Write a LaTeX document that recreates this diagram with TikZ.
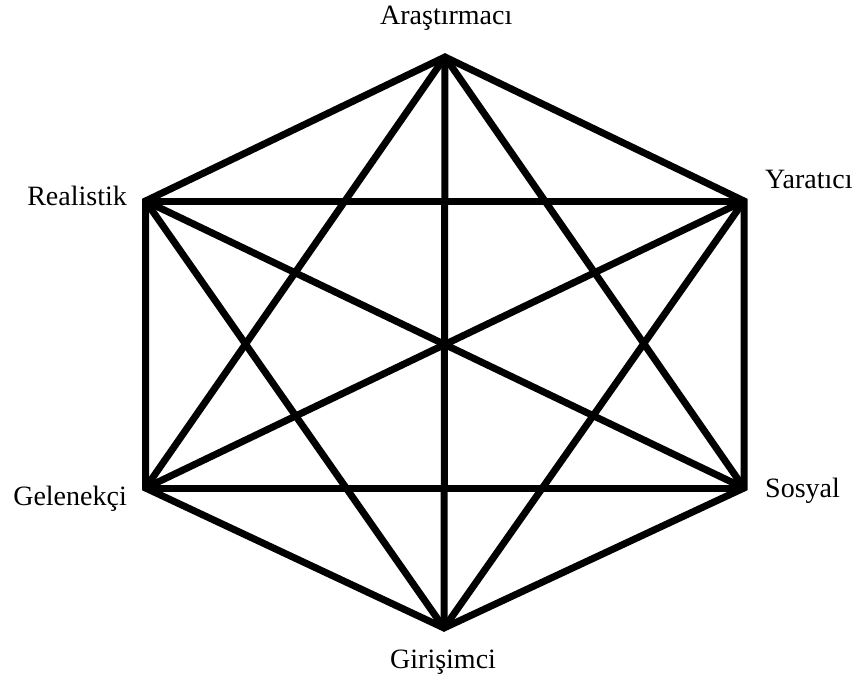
\documentclass[tikz,border=0pt]{standalone}
\usepackage{fontspec}
\setmainfont{Liberation Serif}
\begin{document}
\begin{tikzpicture}[x=1pt,y=-1pt,
  edge/.style={line width=7pt,black,line join=miter,line cap=butt},
  lbl/.style={inner sep=0pt,anchor=base west,font=\fontsize{28}{30}\selectfont}]
\useasboundingbox (0,0) rectangle (865,682);
\coordinate (T) at (445,57);
\coordinate (R) at (145.5,201);
\coordinate (Y) at (744,201);
\coordinate (G) at (145.5,488);
\coordinate (S) at (744,488);
\coordinate (B) at (444,628);
\draw[edge] (T) -- (Y) -- (S) -- (B) -- (G) -- (R) -- cycle;
\draw[edge] (T) -- (B);
\draw[edge] (R) -- (Y);
\draw[edge] (G) -- (S);
\draw[edge] (R) -- (S);
\draw[edge] (G) -- (Y);
\draw[edge] (T) -- (G);
\draw[edge] (T) -- (S);
\draw[edge] (R) -- (B);
\draw[edge] (Y) -- (B);
\node[lbl] (lT) at (380,25) {Araştırmacı};
\node[lbl,anchor=base east] (lR) at (127,205) {Realistik};
\node[lbl] (lY) at (765,188) {Yaratıcı};
\node[lbl,anchor=base east] (lG) at (127,505) {Gelenekçi};
\node[lbl] (lS) at (765,497) {Sosyal};
\node[lbl] (lB) at (390,668) {Girişimci};
\end{tikzpicture}
\end{document}
